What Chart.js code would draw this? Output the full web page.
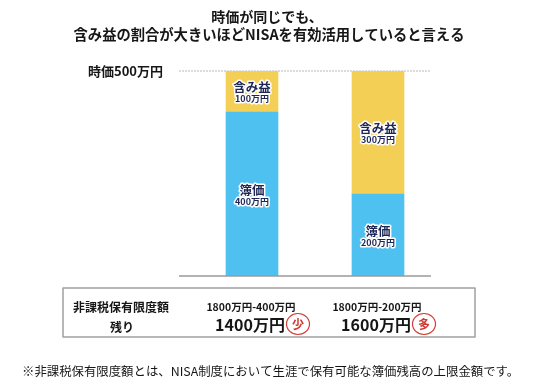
<!DOCTYPE html>
<html>
<head>
<meta charset="utf-8">
<script src="https://cdn.jsdelivr.net/npm/chart.js@4"></script>
<style>
  body { margin: 0; background: #fff; }
  canvas { display: block; }
</style>
</head>
<body>
<canvas id="bar-chart" width="540" height="390"></canvas>
<script>
var categories = ['1800万円-400万円', '1800万円-200万円'];
var bookValue = [400, 200];
var gain = [100, 300];
var remaining = ['1400万円', '1600万円'];
var marks = ['少', '多'];
var yTop = 500;

var FONT = '"Noto Sans CJK JP", "Noto Sans", sans-serif';

var overlay = {
  id: 'overlay',
  beforeDatasetsDraw: function(chart) {
    var ctx = chart.ctx, area = chart.chartArea, y = chart.scales.y;
    var top = y.getPixelForValue(yTop);
    ctx.save();
    ctx.strokeStyle = '#b8b8b8';
    ctx.lineWidth = 1;
    ctx.setLineDash([2, 1]);
    ctx.beginPath();
    ctx.moveTo(area.left - 10, top);
    ctx.lineTo(area.right - 10, top);
    ctx.stroke();
    ctx.restore();
  },
  afterDatasetsDraw: function(chart) {
    var ctx = chart.ctx, area = chart.chartArea, y = chart.scales.y;
    ctx.save();

    // baseline
    var base = y.getPixelForValue(0);
    ctx.strokeStyle = '#9a9a9a';
    ctx.lineWidth = 1.5;
    ctx.beginPath();
    ctx.moveTo(area.left - 10, base);
    ctx.lineTo(area.right - 10, base);
    ctx.stroke();

    // title
    ctx.fillStyle = '#161616';
    ctx.textAlign = 'center';
    ctx.textBaseline = 'middle';
    ctx.font = 'bold 14px ' + FONT;
    ctx.fillText('時価が同じでも、', 267, 17);
    ctx.font = 'bold 14.3px ' + FONT;
    ctx.fillText('含み益の割合が大きいほどNISAを有効活用していると言える', 269, 35);

    // y label
    ctx.textAlign = 'right';
    ctx.font = 'bold 13px ' + FONT;
    ctx.fillText('時価' + yTop + '万円', area.left - 26, y.getPixelForValue(yTop));

    // labels inside bars
    ctx.textAlign = 'center';
    ctx.lineJoin = 'round';
    chart.data.datasets.forEach(function(ds, di) {
      var meta = chart.getDatasetMeta(di);
      meta.data.forEach(function(bar, i) {
        var mid = (bar.y + bar.base) / 2;
        var lines = [[ds.label, 'bold 12.5px ', mid - 4], [ds.data[i] + '万円', 'bold 9px ', mid + 7.5]];
        lines.forEach(function(l) {
          ctx.font = l[1] + FONT;
          ctx.strokeStyle = '#ffffff';
          ctx.lineWidth = 3;
          ctx.strokeText(l[0], bar.x, l[2]);
          ctx.fillStyle = '#1d2656';
          ctx.fillText(l[0], bar.x, l[2]);
        });
      });
    });

    // remaining-limit box
    ctx.strokeStyle = '#a0a0a0';
    ctx.lineWidth = 1.5;
    ctx.strokeRect(63, base + 12, 412, 49);
    ctx.fillStyle = '#161616';
    ctx.font = 'bold 12px ' + FONT;
    ctx.fillText('非課税保有限度額', 121, base + 31);
    ctx.fillText('残り', 122, base + 51);

    var meta0 = chart.getDatasetMeta(0);
    meta0.data.forEach(function(bar, i) {
      ctx.fillStyle = '#161616';
      ctx.textAlign = 'center';
      ctx.font = 'bold 10.5px ' + FONT;
      ctx.fillText(categories[i], bar.x - 1, base + 31);
      ctx.font = 'bold 16px ' + FONT;
      ctx.fillText(remaining[i], bar.x - 2, base + 49);
      var cx = bar.x + 46, cy = base + 48;
      ctx.strokeStyle = '#d23a33';
      ctx.lineWidth = 1.2;
      ctx.beginPath();
      ctx.ellipse(cx, cy, 11.5, 10.5, 0, 0, Math.PI * 2);
      ctx.stroke();
      ctx.fillStyle = '#d23a33';
      ctx.font = 'bold 12px ' + FONT;
      ctx.fillText(marks[i], cx, cy);
    });

    // footnote
    ctx.fillStyle = '#161616';
    ctx.textAlign = 'left';
    ctx.font = '12.4px ' + FONT;
    ctx.fillText('※非課税保有限度額とは、NISA制度において生涯で保有可能な簿価残高の上限金額です。', 22, 371);

    ctx.restore();
  }
};

var ctx = document.getElementById('bar-chart');

new Chart(ctx, {
  type: 'bar',
  data: {
    labels: categories,
    datasets: [{
      label: '簿価',
      data: bookValue,
      backgroundColor: '#4fc1f0',
      borderWidth: 0,
      barThickness: 52
    }, {
      label: '含み益',
      data: gain,
      backgroundColor: '#f4cf55',
      borderWidth: 0,
      barThickness: 52
    }]
  },
  options: {
    responsive: false,
    animation: false,
    layout: {
      padding: { left: 189, right: 99, top: 71, bottom: 114 }
    },
    scales: {
      x: { stacked: true, display: false },
      y: { stacked: true, display: false, min: 0, max: yTop }
    },
    plugins: {
      legend: { display: false },
      tooltip: { enabled: false }
    }
  },
  plugins: [overlay]
});
</script>
</body>
</html>
